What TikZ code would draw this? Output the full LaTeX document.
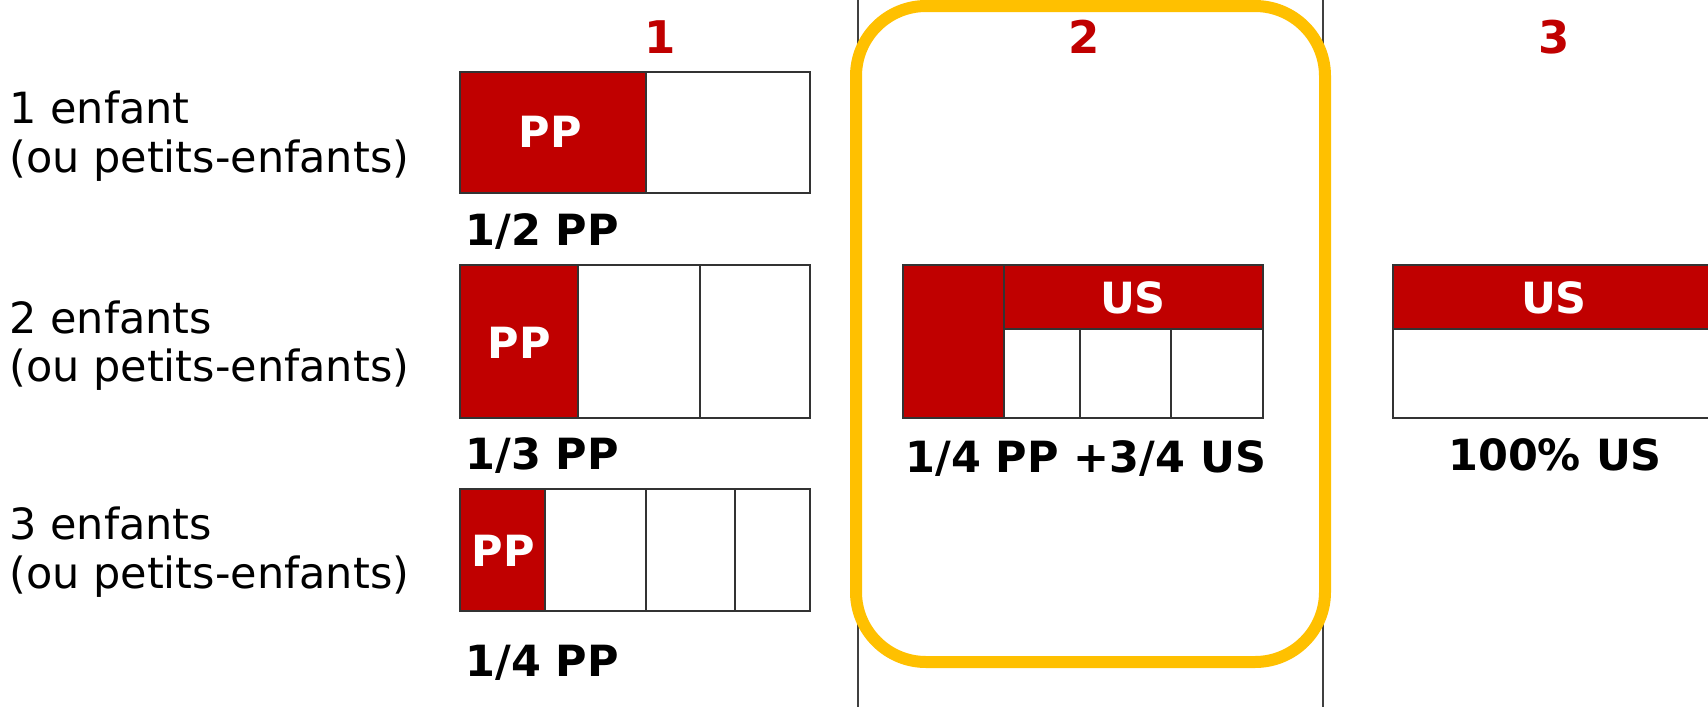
\documentclass[tikz,border=0pt]{standalone}
\usepackage{fontspec}
\setmainfont{DejaVu Sans}
\usepackage{tikz}
\usetikzlibrary{positioning}
\definecolor{darkred}{RGB}{192,0,0}
\definecolor{gold}{RGB}{255,192,0}

\tikzset{
  lbl/.style={anchor=base west, inner sep=0pt, font=\fontsize{21.5}{24}\selectfont},
  share/.style={anchor=base west, inner sep=0pt, font=\fontsize{21.5}{24}\selectfont\bfseries},
  tag/.style={inner sep=0pt, text=white, font=\fontsize{21.5}{24}\selectfont\bfseries},
  num/.style={anchor=base, inner sep=0pt, text=darkred, font=\fontsize{22.5}{24}\selectfont\bfseries},
  cell/.style={draw=black!80, line width=1pt}
}

\begin{document}
\begin{tikzpicture}[x=0.5pt, y=-0.5pt]
\useasboundingbox (0,0) rectangle (1708,707);
\clip (0,0) rectangle (1708,707);
\fill[white] (0,0) rectangle (1708,707);

% Column separators
\draw[black!75, line width=1pt] (858,0) -- (858,707);
\draw[black!75, line width=1pt] (1323,0) -- (1323,707);

% Column numbers
\node[num] (n1) at (660,53) {1};
\node[num] (n2) at (1084,53) {2};
\node[num] (n3) at (1554,53) {3};

% Row labels
\node[lbl] (r1a) at (9,123) {1 enfant};
\node[lbl] (r1b) at (9,172) {(ou petits-enfants)};
\node[lbl] (r2a) at (9,333) {2 enfants};
\node[lbl] (r2b) at (9,381) {(ou petits-enfants)};
\node[lbl] (r3a) at (9,539) {3 enfants};
\node[lbl] (r3b) at (9,588) {(ou petits-enfants)};

% Column 1: one bar per row
\fill[darkred] (460,72) rectangle (646,193);
\draw[cell] (460,72) rectangle (810,193) (646,72) -- (646,193);
\node[tag] (pp1) at (550,132) {PP};
\node[share] (s1) at (465,245) {1/2 PP};

\fill[darkred] (460,265) rectangle (578,418);
\draw[cell] (460,265) rectangle (810,418) (578,265) -- (578,418) (700,265) -- (700,418);
\node[tag] (pp2) at (519,343) {PP};
\node[share] (s2) at (465,469) {1/3 PP};

\fill[darkred] (460,489) rectangle (545,611);
\draw[cell] (460,489) rectangle (810,611) (545,489) -- (545,611)
  (646,489) -- (646,611) (735,489) -- (735,611);
\node[tag] (pp3) at (503,551) {PP};
\node[share] (s3) at (465,676) {1/4 PP};

% Column 2
\fill[darkred] (903,265) rectangle (1004,418);
\fill[darkred] (1004,265) rectangle (1263,329);
\draw[cell] (903,265) rectangle (1263,418) (1004,265) -- (1004,418) (1004,329) -- (1263,329)
  (1080,329) -- (1080,418) (1171,329) -- (1171,418);
\node[tag] (us2) at (1133,298) {US};
\node[share] (s4) at (905,472) {1/4 PP +3/4 US};

% Column 3
\fill[darkred] (1393,265) rectangle (1716,329);
\draw[cell] (1393,265) rectangle (1716,418) (1393,329) -- (1716,329);
\node[tag] (us3) at (1554,298) {US};
\node[share, anchor=base] (s5) at (1555,470) {100\% US};

% Highlight of column 2
\draw[gold, line width=6pt, rounded corners=35pt] (856,6) rectangle (1325,662);
\end{tikzpicture}
\end{document}
